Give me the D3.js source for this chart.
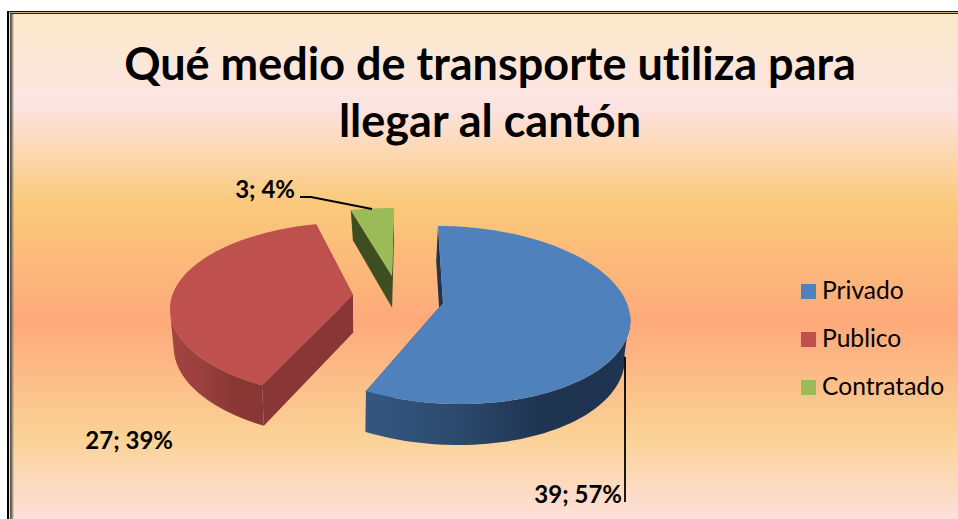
<!DOCTYPE html>
<html><head><meta charset="utf-8">
<script src="https://cdn.jsdelivr.net/npm/d3@7"></script>
<style>html,body{margin:0;padding:0;background:#fff;overflow:hidden}svg{display:block}text{font-family:Lato,"Open Sans",sans-serif;fill:#000;font-variant-ligatures:none}</style>
</head><body><svg id="c" width="958" height="519"></svg>
<script>
const categories = ["Privado", "Publico", "Contratado"];
const values = [39, 27, 3];
const percents = ["57%", "39%", "4%"];
const titleLines = ["Qué medio de transporte utiliza para", "llegar al cantón"];
const topColors = ["#4f81bd", "#be504e", "#9bbb59"];

// Pseudo-3D projection of each exploded slice (layout, not data)
const foreshorten = 0.75;
const slices3d = [
  {cx:449.3, cy:315, rx:180.7, ry:89, skew:11.3, apex:[443,303], depth:41, shrink:.02, lean:-2,
   wall:["#35577f","#2c4a6e","#1f3450","#1f3450"], radial:"#1f3450"},
  {cx:356, cy:310, rx:186, ry:87.7, skew:2, apex:[353,295], depth:41, shrink:.02, lean:0,
   wall:["#a34442","#9a403e","#8a3836","#873735"], radial:"#883736"},
  {cx:394, cy:308, rx:212, ry:100, skew:0, apex:[392,276], depth:35, shrink:.05, lean:0,
   wall:["#3f4d22","#3f4d22"], radial:"#3f4d22"}
];

const svg = d3.select("#c");
const W = 958, H = 519;
const defs = svg.append("defs");

const bg = defs.append("linearGradient").attr("id","bg").attr("x1",0).attr("y1",0).attr("x2",0).attr("y2",1);
[[0,"#fbe9c8"],[0.18,"#fde4e4"],[0.38,"#fbc97a"],[0.61,"#fda97a"],[0.84,"#fbd296"],[1,"#fde0da"]]
  .forEach(([o,c])=>bg.append("stop").attr("offset",o).attr("stop-color",c));
svg.append("rect").attr("x",9).attr("y",12).attr("width",W-9).attr("height",H-12).attr("fill","url(#bg)");

const sh = defs.append("linearGradient").attr("id","sh").attr("x1",0).attr("x2",1).attr("y1",0).attr("y2",0);
sh.append("stop").attr("offset",0).attr("stop-color","#4c4a44");
sh.append("stop").attr("offset",0.5).attr("stop-color","#857d6e");
sh.append("stop").attr("offset",1).attr("stop-color","#857d6e").attr("stop-opacity",0);
svg.append("rect").attr("x",10).attr("y",14).attr("width",4).attr("height",H-14).attr("fill","url(#sh)");
svg.append("rect").attr("x",7).attr("y",11).attr("width",2).attr("height",H-11).attr("fill","#000");
svg.append("rect").attr("x",9).attr("y",12).attr("width",1).attr("height",H-12).attr("fill","#e8e4d8");
svg.append("rect").attr("x",7).attr("y",11).attr("width",W-7).attr("height",1).attr("fill","#111");
svg.append("rect").attr("x",9).attr("y",12).attr("width",W-9).attr("height",1).attr("fill","#c9b98a");
svg.append("rect").attr("x",10).attr("y",13).attr("width",W-10).attr("height",1).attr("fill","#222");

svg.append("g").selectAll("text").data(titleLines).join("text")
  .attr("x",490).attr("y",(d,i)=>80+i*57).attr("text-anchor","middle")
  .attr("font-weight",700).attr("font-size",45).text(d=>d);

const arcs = d3.pie().sort(null).value(d=>d)(values);
// perspective moves a plan-view angle along the projected ellipse
const warp = t=>{
  if(t<=0||t>=2*Math.PI) return t;
  const u=2*Math.atan(foreshorten*Math.tan(t/2));
  return u<0?u+2*Math.PI:u;
};
const project = (g,t)=>{
  const w=warp(t), s=Math.sin(w), c=Math.cos(w);
  return [g.cx + g.rx*s - g.skew*c, g.cy - g.ry*c];
};
const sweep = (g,a,b,n=120)=>d3.range(n+1).map(i=>project(g,a+(b-a)*i/n));
const line = d3.line();
const pie = svg.append("g");

// back-to-front: green, red, blue
[2,1,0].forEach(i=>{
  const a=arcs[i], g=slices3d[i];
  const rim = sweep(g,a.startAngle,a.endAngle);
  const down = p=>{
    const f=Math.max(-1,Math.min(1,(p[1]-g.cy)/g.ry));
    return [p[0]-(p[0]-g.cx)*g.shrink+g.lean, p[1]+g.depth*(0.93+0.07*f)];
  };
  const gr = pie.append("g");
  [rim[0],rim[rim.length-1]].forEach(p=>{
    gr.append("path").attr("fill",g.radial)
      .attr("d",line([p,g.apex,down(g.apex),down(p)])+"Z");
  });
  const front = rim.filter(p=>p[1]>=g.cy);
  if(front.length>1 && i<2){
    const id="w"+i, x0=d3.min(front,p=>p[0]), x1=d3.max(front,p=>p[0]);
    const lg=defs.append("linearGradient").attr("id",id).attr("gradientUnits","userSpaceOnUse")
      .attr("x1",x0).attr("x2",x1).attr("y1",0).attr("y2",0);
    g.wall.forEach((c,k)=>lg.append("stop").attr("offset",k/(g.wall.length-1)).attr("stop-color",c));
    gr.append("path").attr("fill",`url(#${id})`)
      .attr("d",line(front.concat(front.slice().reverse().map(down)))+"Z");
  }
  gr.append("path").attr("fill",topColors[i])
    .attr("d",line(rim.concat([g.apex]))+"Z");
});

const labels=[
  {t:`${values[0]}; ${percents[0]}`,x:622,y:503,a:"end"},
  {t:`${values[1]}; ${percents[1]}`,x:173,y:449,a:"end"},
  {t:`${values[2]}; ${percents[2]}`,x:295,y:198,a:"end"}
];
svg.append("g").selectAll("text").data(labels).join("text")
  .attr("x",d=>d.x).attr("y",d=>d.y).attr("text-anchor",d=>d.a)
  .attr("font-weight",700).attr("font-size",24).text(d=>d.t);
const leaders=[[[625,357],[625,502]],[[300,197],[311,197],[372,209]]];
svg.append("g").selectAll("path").data(leaders).join("path")
  .attr("d",d=>line(d)).attr("fill","none").attr("stroke","#000").attr("stroke-width",1.8);

const lg=svg.append("g").selectAll("g").data(categories).join("g")
  .attr("transform",(d,i)=>`translate(801,${284+i*48})`);
lg.append("rect").attr("width",15).attr("height",15).attr("fill",(d,i)=>topColors[i]);
lg.append("text").attr("x",21).attr("y",15).attr("font-size",24.6).text(d=>d);
</script></body></html>
